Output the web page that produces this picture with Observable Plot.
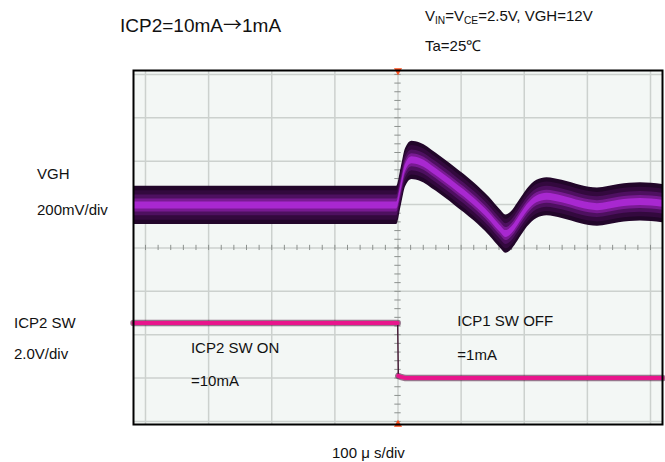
<!DOCTYPE html>
<html><head><meta charset="utf-8">
<script src="https://cdn.jsdelivr.net/npm/d3@7"></script>
<script src="https://cdn.jsdelivr.net/npm/@observablehq/plot@0.6"></script>
<style>
body{margin:0;background:#fff;font-family:"Liberation Sans",Arial,sans-serif;}
#wrap{position:relative;width:665px;height:462px;}
.lab{position:absolute;white-space:nowrap;line-height:1;transform:translateY(-50%);color:#111;font-size:15px;}
.lab sub{font-size:0.68em;vertical-align:-0.25em;}
.arr{font-family:"Noto Sans CJK JP","DejaVu Sans",sans-serif;}
</style></head><body><div id="wrap"></div>
<script>
// VGH trace (divisions, centre of the noisy band)
const vghT = [-4.19, -2, -0.02, 0.05, 0.12, 0.22, 0.35, 0.6, 0.9, 1.2, 1.45, 1.62, 1.71, 1.8, 1.9, 2.05, 2.2, 2.36, 2.6, 2.9, 3.16, 3.5, 3.84, 4.19];
const vghV = [0.98, 0.98, 0.98, 1.4, 1.85, 2.02, 1.98, 1.75, 1.42, 1.07, 0.72, 0.44, 0.32, 0.4, 0.6, 0.92, 1.12, 1.18, 1.12, 1.0, 0.94, 1.02, 1.06, 1.02];
// ICP2 SW trace
const icpT = [-4.19, -0.005, 0.005, 0.04, 0.12, 4.19];
const icpV = [-1.73, -1.73, -2.95, -2.97, -3.0, -3.0];
const icpSeg = ["on", "on", "off", "off", "off", "off"];
// grid divisions
const gridX = [-4, -3, -2, -1, 0, 1, 2, 3, 4];
const gridY = [-4, -3, -2, -1, 0, 1, 2, 3, 4];
// annotations inside the screen
const noteText = ["ICP2 SW ON", "=10mA", "ICP1 SW OFF", "=1mA"];
const noteX = [-3.28, -3.28, 0.94, 0.94];
const noteY = [-2.32, -3.07, -1.69, -2.48];

const vgh = vghT.map((t, i) => ({t, v: vghV[i]}));
const icp = icpT.map((t, i) => ({t, v: icpV[i], seg: icpSeg[i]}));
const notes = noteText.map((s, i) => ({s, x: noteX[i], y: noteY[i]}));
const minorX = d3.range(-21, 22).map(k => k / 5).filter(v => Math.abs(v) <= 4.19);
const minorY = d3.range(-20, 21).map(k => k / 5);
const bands = [
  {w: 0.44, c: "#22062a"},
  {w: 0.34, c: "#33093e"},
  {w: 0.24, c: "#4e1060"},
  {w: 0.15, c: "#781a92"},
  {w: 0.08, c: "#a828d0"}
];

const chart = Plot.plot({
  width: 665, height: 462,
  marginLeft: 133, marginRight: 3, marginTop: 70, marginBottom: 38,
  x: {domain: [-4.19, 4.19], axis: null},
  y: {domain: [-4.07, 4.09], axis: null},
  style: {background: "transparent", fontFamily: "'Liberation Sans', Arial, sans-serif"},
  marks: [
    Plot.frame({fill: "#f3f7f5", stroke: null}),
    Plot.ruleX(gridX, {stroke: "#ccd1ce", strokeWidth: 1.5}),
    Plot.ruleY(gridY, {stroke: "#ccd1ce", strokeWidth: 1.5}),
    Plot.ruleX(minorX, {y1: -0.06, y2: 0.06, stroke: "#8c918e"}),
    Plot.ruleY(minorY, {x1: -0.05, x2: 0.05, stroke: "#8c918e"}),
    ...bands.map(b => Plot.areaY(vgh, {x: "t", y1: d => d.v - b.w, y2: d => d.v + b.w, fill: b.c, curve: "monotone-x"})),
    Plot.line(icp, {x: "t", y: "v", stroke: "#3a0a28", strokeWidth: 1.3}),
    Plot.line(icp, {x: "t", y: "v", z: "seg", stroke: "#4a0c34", strokeWidth: 6.5, strokeOpacity: 0.55}),
    Plot.line(icp, {x: "t", y: "v", z: "seg", stroke: "#e8158c", strokeWidth: 4}),
    Plot.text(notes, {x: "x", y: "y", text: "s", textAnchor: "start", fontSize: 15, fill: "#111"}),
    Plot.dot([0], {x: d => d, y: 4.09, symbol: "triangle", r: 3, fill: "#ff4d1a", rotate: 180}),
    Plot.dot([0], {x: d => d, y: -4.07, symbol: "triangle", r: 3, fill: "#ff4d1a"}),
    Plot.frame({stroke: "#000", strokeWidth: 2})
  ]
});
const wrap = document.getElementById("wrap");
wrap.appendChild(chart);

const labels = [
  {html: "ICP2=10mA<span class='arr'>→</span>1mA", x: 120, y: 24, size: 19},
  {html: "V<sub>IN</sub>=V<sub>CE</sub>=2.5V, VGH=12V", x: 425, y: 17, size: 15},
  {html: "Ta=25℃", x: 425, y: 45, size: 15},
  {html: "VGH", x: 37, y: 173, size: 15},
  {html: "200mV/div", x: 37, y: 209, size: 15},
  {html: "ICP2 SW", x: 14, y: 322, size: 15},
  {html: "2.0V/div", x: 14, y: 353, size: 15},
  {html: "100 μ s/div", x: 332, y: 452, size: 15}
];
for (const l of labels) {
  const d = document.createElement("div");
  d.className = "lab";
  d.style.left = l.x + "px";
  d.style.top = l.y + "px";
  d.style.fontSize = l.size + "px";
  d.innerHTML = l.html;
  wrap.appendChild(d);
}
const svg = chart.tagName === "svg" ? chart : chart.querySelector("svg");
svg.style.position = "absolute"; svg.style.left = "0"; svg.style.top = "0";
</script>
</body></html>
